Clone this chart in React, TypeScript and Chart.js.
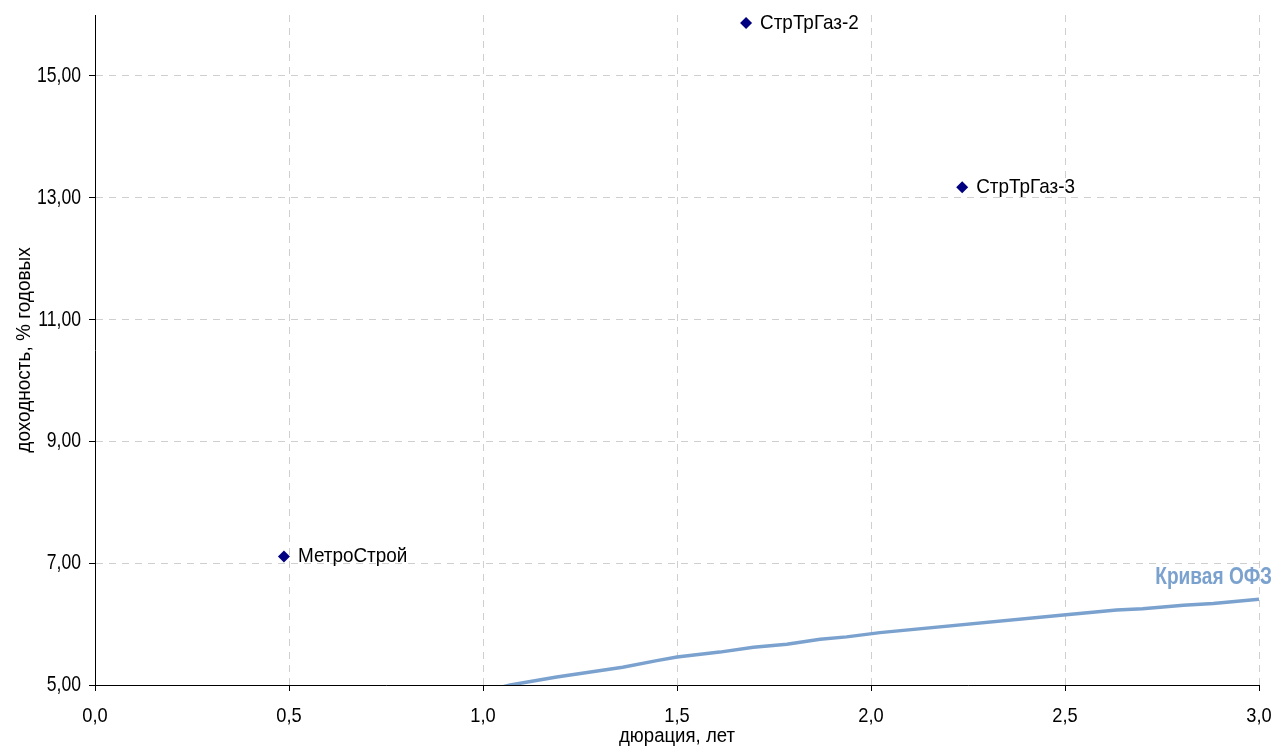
import React, { useEffect, useRef } from "react";
import { Chart, registerables } from "chart.js";

Chart.register(...registerables);

const bondNames = ["МетроСтрой", "СтрТрГаз-2", "СтрТрГаз-3"];
const bondDurations = [0.487, 1.678, 2.235];
const bondYields = [7.11, 15.87, 13.17];

const ofzDurations = [1.0, 1.07, 1.19, 1.36, 1.448, 1.5, 1.61, 1.697, 1.783, 1.869, 1.937, 2.023, 2.496, 2.633, 2.7, 2.805, 2.882, 3.0];
const ofzYields = [4.89, 5.0, 5.13, 5.29, 5.4, 5.46, 5.54, 5.62, 5.67, 5.75, 5.79, 5.86, 6.15, 6.23, 6.25, 6.31, 6.34, 6.41];
const ofzLabel = "Кривая ОФЗ";

const yTickValues = [5, 7, 9, 11, 13, 15];
const xTitle = "дюрация, лет";
const yTitle = "доходность, % годовых";

const FONT = "'Liberation Sans', Arial, sans-serif";
const OFZ_COLOR = "#7BA2CE";

function drawText(ctx: CanvasRenderingContext2D, text: string, x: number, y: number, sx: number, align: CanvasTextAlign, rot = 0) {
  ctx.save();
  ctx.translate(x, y);
  if (rot) ctx.rotate(rot);
  ctx.scale(sx, 1);
  ctx.textAlign = align;
  ctx.textBaseline = "middle";
  ctx.fillText(text, 0, 0);
  ctx.restore();
}

const textPlugin = {
  id: "customText",
  afterDraw(chart: any) {
    const ctx = chart.ctx as CanvasRenderingContext2D;
    const area = chart.chartArea;
    const xs = chart.scales.x;
    const ys = chart.scales.y;
    ctx.save();
    ctx.fillStyle = "#000";
    ctx.font = `22px ${FONT}`;
    ys.ticks.forEach((t: any) => {
      drawText(ctx, Number(t.value).toFixed(2).replace(".", ","), 81, ys.getPixelForValue(t.value), 0.8, "right");
    });
    ctx.font = `21px ${FONT}`;
    xs.ticks.forEach((t: any) => {
      drawText(ctx, Number(t.value).toFixed(1).replace(".", ","), xs.getPixelForValue(t.value), area.bottom + 31, 0.87, "center");
    });
    ctx.font = `20px ${FONT}`;
    drawText(ctx, xTitle, (area.left + area.right) / 2, 736, 0.93, "center");
    drawText(ctx, yTitle, 24, (area.top + area.bottom) / 2, 0.95, "center", -Math.PI / 2);
    const meta = chart.getDatasetMeta(1);
    ctx.font = `21px ${FONT}`;
    meta.data.forEach((el: any, i: number) => {
      drawText(ctx, bondNames[i], el.x + 14, el.y, 0.9, "left");
    });
    ctx.font = `bold 23px ${FONT}`;
    ctx.fillStyle = OFZ_COLOR;
    drawText(ctx, ofzLabel, 1272, ys.getPixelForValue(6.77), 0.83, "right");
    ctx.restore();
  },
};

export default function App() {
  const ref = useRef<HTMLCanvasElement>(null);
  useEffect(() => {
    document.body.style.margin = "0";
    const canvas = ref.current!;
    const chart = new Chart(canvas, {
      type: "scatter",
      data: {
        datasets: [
          {
            label: ofzLabel,
            data: ofzDurations.map((x, i) => ({ x, y: ofzYields[i] })),
            showLine: true,
            borderColor: OFZ_COLOR,
            borderWidth: 3.5,
            pointRadius: 0,
            tension: 0,
          },
          {
            label: "bonds",
            data: bondDurations.map((x, i) => ({ x, y: bondYields[i] })),
            pointStyle: "rectRot",
            pointRadius: 6,
            backgroundColor: "#000080",
            borderColor: "#000080",
            borderWidth: 0,
          },
        ],
      },
      options: {
        animation: false,
        responsive: false,
        maintainAspectRatio: false,
        layout: { padding: { top: 15, right: 14, left: 0, bottom: 0 } },
        plugins: { legend: { display: false }, tooltip: { enabled: false } },
        scales: {
          x: {
            type: "linear",
            min: 0,
            max: 3,
            ticks: {
              stepSize: 0.5,
              display: false,
            },
            grid: {
              color: "#cfcfcf",
              tickColor: "#000",
              tickLength: 6,
              tickBorderDash: [],
            } as any,
            border: { color: "#000", width: 1, dash: [7, 6] } as any,
            afterFit: (s: any) => {
              s.height = 62;
            },
          },
          y: {
            type: "linear",
            min: 5,
            max: 16,
            afterBuildTicks: (s: any) => {
              s.ticks = yTickValues.map((v) => ({ value: v }));
            },
            ticks: { display: false },
            grid: {
              color: "#cfcfcf",
              tickColor: "#000",
              tickLength: 6,
            },
            border: { color: "#000", width: 1, dash: [7, 6] } as any,
            afterFit: (s: any) => {
              s.width = 95;
            },
          },
        },
      },
      plugins: [textPlugin],
    });
    return () => chart.destroy();
  }, []);
  return <canvas ref={ref} width={1273} height={747} style={{ display: "block" }} />;
}
